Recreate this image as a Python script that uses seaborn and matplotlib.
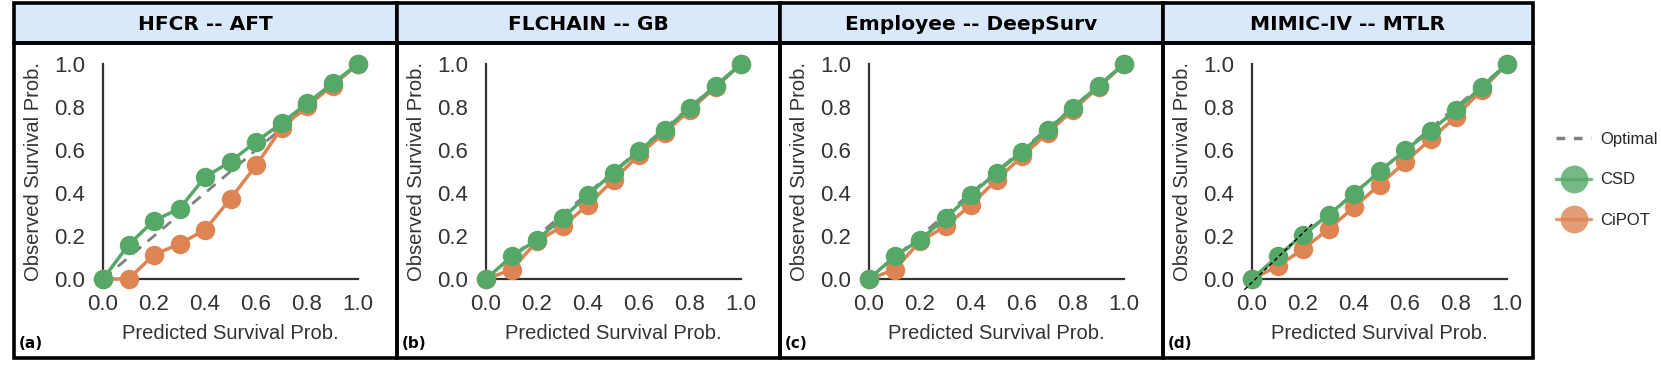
import matplotlib
matplotlib.use('Agg')
import matplotlib.pyplot as plt
from matplotlib.patches import Rectangle
from matplotlib.lines import Line2D
import pandas as pd
import seaborn as sns

# ---- data ----
predicted = [0.0, 0.1, 0.2, 0.3, 0.4, 0.5, 0.6, 0.7, 0.8, 0.9, 1.0]
titles = ['HFCR -- AFT', 'FLCHAIN -- GB', 'Employee -- DeepSurv', 'MIMIC-IV -- MTLR']
panel_tags = ['(a)', '(b)', '(c)', '(d)']

csd_hfcr = [0.0, 0.159, 0.272, 0.327, 0.474, 0.546, 0.639, 0.724, 0.817, 0.910, 1.0]
cipot_hfcr = [0.0, 0.0, 0.113, 0.163, 0.229, 0.373, 0.528, 0.701, 0.805, 0.899, 1.0]

csd_flchain = [0.0, 0.105, 0.183, 0.283, 0.392, 0.495, 0.596, 0.693, 0.797, 0.898, 1.0]
cipot_flchain = [0.0, 0.043, 0.175, 0.245, 0.345, 0.461, 0.577, 0.681, 0.786, 0.892, 1.0]

csd_employee = [0.0, 0.105, 0.183, 0.283, 0.392, 0.495, 0.593, 0.693, 0.797, 0.899, 1.0]
cipot_employee = [0.0, 0.043, 0.175, 0.245, 0.345, 0.461, 0.570, 0.678, 0.786, 0.892, 1.0]

csd_mimic = [0.0, 0.105, 0.206, 0.299, 0.395, 0.500, 0.598, 0.689, 0.786, 0.892, 1.0]
cipot_mimic = [0.0, 0.059, 0.139, 0.232, 0.334, 0.438, 0.543, 0.650, 0.755, 0.879, 1.0]

optimal = [0.0, 1.0]
# short black dashed stroke visible near the origin of panel (d)
mimic_stroke_x = [-0.03, 0.24]
mimic_stroke_y = [-0.05, 0.26]
ticks = [0.0, 0.2, 0.4, 0.6, 0.8, 1.0]

csd_all = [csd_hfcr, csd_flchain, csd_employee, csd_mimic]
cipot_all = [cipot_hfcr, cipot_flchain, cipot_employee, cipot_mimic]

GREEN = '#55A868'
ORANGE = '#DD8452'
TXT = '#333333'

sns.set_style('white')
plt.rcParams['font.family'] = ['Liberation Sans', 'DejaVu Sans']

W, H = 1661, 375
fig = plt.figure(figsize=(W / 100, H / 100), dpi=100)


def fx(px):
    return px / W


def fy(py):
    return 1 - py / H


# panel frames (pixels) and where data (0,0) sits
boxes = [(14, 397), (397, 780), (780, 1163), (1163, 1533)]
origins = [103, 486, 869, 1252]
unit_x, unit_y = 255, 215
y_zero = 279
top, strip_bottom, bottom = 3, 43, 358

for i, (left, right) in enumerate(boxes):
    strip = Rectangle((fx(left), fy(strip_bottom)), fx(right) - fx(left), (strip_bottom - top) / H,
                      transform=fig.transFigure, facecolor='#DAE8FC', edgecolor='black', lw=2.6)
    body = Rectangle((fx(left), fy(bottom)), fx(right) - fx(left), (bottom - strip_bottom) / H,
                     transform=fig.transFigure, facecolor='none', edgecolor='black', lw=2.6)
    fig.add_artist(strip)
    fig.add_artist(body)
    fig.text(fx((left + right) / 2), fy(24), titles[i], ha='center', va='center',
             fontsize=14.5, fontweight='bold', family='DejaVu Sans', color='black')
    fig.text(fx(left + 5), fy(343), panel_tags[i], ha='left', va='center',
             fontsize=11, fontweight='bold', family='DejaVu Sans', color='black')

    ox = origins[i]
    ax = fig.add_axes([fx(ox - 0.05 * unit_x), fy(y_zero + 0.05 * unit_y),
                       1.1 * unit_x / W, 1.1 * unit_y / H])
    ax.patch.set_alpha(0)

    df = pd.DataFrame({
        'pred': predicted * 2,
        'obs': cipot_all[i] + csd_all[i],
        'method': ['CiPOT'] * len(predicted) + ['CSD'] * len(predicted),
    })

    ax.plot(optimal, optimal, ls='--', color='gray', lw=2, dashes=(4, 3), zorder=2)
    sns.lineplot(data=df, x='pred', y='obs', hue='method', hue_order=['CiPOT', 'CSD'],
                 palette={'CSD': GREEN, 'CiPOT': ORANGE}, marker='o', markersize=14,
                 markeredgewidth=0, linewidth=2.5, legend=False, ax=ax, zorder=3)
    if i == 3:
        ax.plot(mimic_stroke_x, mimic_stroke_y, ls='--', color='black', lw=1,
                dashes=(3, 2), zorder=4, clip_on=False)

    ax.set_xlim(-0.05, 1.05)
    ax.set_ylim(-0.05, 1.05)
    sns.despine(ax=ax)
    for side in ['left', 'bottom']:
        ax.spines[side].set_position(('data', 0))
        ax.spines[side].set_bounds(0, 1)
        ax.spines[side].set_color(TXT)
        ax.spines[side].set_linewidth(1.6)
    ax.set_xticks(ticks)
    ax.set_yticks(ticks)
    ax.set_xticklabels([f'{t:.1f}' for t in ticks])
    ax.set_yticklabels([f'{t:.1f}' for t in ticks])
    ax.tick_params(axis='both', length=0, labelsize=16, colors=TXT)
    ax.tick_params(axis='x', pad=11)
    ax.tick_params(axis='y', pad=13)
    ax.set_xlabel('Predicted Survival Prob.', fontsize=14.5, color=TXT)
    ax.set_ylabel('Observed Survival Prob.', fontsize=14.5, color=TXT)
    ax.xaxis.set_label_coords(0.5, -0.145)
    ax.yaxis.set_label_coords(-0.168, 0.5)

handles = [
    Line2D([], [], color='gray', ls='--', lw=2.5, dashes=(2.5, 2.5)),
    Line2D([], [], color=GREEN, marker='o', markersize=20, markeredgewidth=0, lw=2.5, alpha=0.8),
    Line2D([], [], color=ORANGE, marker='o', markersize=20, markeredgewidth=0, lw=2.5, alpha=0.8),
]
fig.legend(handles, ['Optimal', 'CSD', 'CiPOT'], loc='center left',
           bbox_to_anchor=(fx(1556), fy(180)), frameon=False, fontsize=12,
           handlelength=2.1, labelspacing=1.55, handletextpad=0.55,
           borderpad=0, borderaxespad=0)

fig.savefig('out.png', dpi=100)
